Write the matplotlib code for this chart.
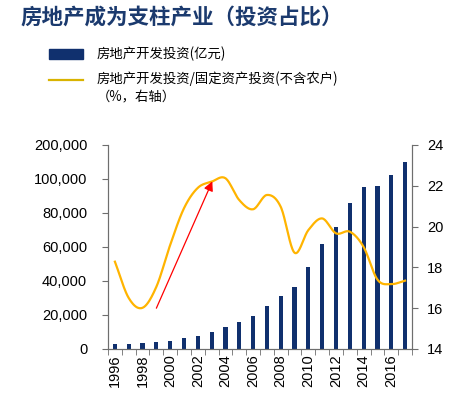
import numpy as np
import matplotlib
matplotlib.use("Agg")
import matplotlib.pyplot as plt
from matplotlib.lines import Line2D
from matplotlib.patches import Rectangle

plt.rcParams['font.family'] = ['Noto Sans CJK SC', 'DejaVu Sans']

years = list(range(1996, 2018))
investment = [3216, 3178, 3614, 4103, 4984, 6344, 7791, 10154, 13158, 15909, 19423,
              25289, 31203, 36242, 48259, 61797, 71804, 86013, 95036, 95979, 102581, 109799]
share = [18.28, 16.5, 16.02, 17.05, 19.1, 20.9, 21.9, 22.2, 22.37, 21.3, 20.85,
         21.55, 20.97, 18.72, 19.83, 20.4, 19.67, 19.75, 19.0, 17.4, 17.18, 17.35]
left_ticks = [0, 20000, 40000, 60000, 80000, 100000, 120000]
left_labels = ['0', '20,000', '40,000', '60,000', '80,000', '100,000', '200,000']
right_ticks = [14, 16, 18, 20, 22, 24]
arrow_from = (1999, 16.0)
arrow_to = (2003, 22.22)

title = '房地产成为支柱产业（投资占比）'
legend1 = '房地产开发投资(亿元)'
legend2 = '房地产开发投资/固定资产投资(不含农户)'
legend2b = '（%，右轴）'

navy = '#10306E'
gold = '#FFB400'
title_color = '#1B3A6E'
spine_c = '#6E6E6E'


def catmull_rom(x, y, n=20):
    x = np.asarray(x, float)
    y = np.asarray(y, float)
    px = np.concatenate([[2 * x[0] - x[1]], x, [2 * x[-1] - x[-2]]])
    py = np.concatenate([[2 * y[0] - y[1]], y, [2 * y[-1] - y[-2]]])
    xs, ys = [], []
    t = np.linspace(0, 1, n, endpoint=False)
    for i in range(1, len(px) - 2):
        for arr, out in ((px, xs), (py, ys)):
            p0, p1, p2, p3 = arr[i - 1], arr[i], arr[i + 1], arr[i + 2]
            out.extend(0.5 * ((2 * p1) + (-p0 + p2) * t
                              + (2 * p0 - 5 * p1 + 4 * p2 - p3) * t ** 2
                              + (-p0 + 3 * p1 - 3 * p2 + p3) * t ** 3))
    xs.append(x[-1])
    ys.append(y[-1])
    return np.array(xs), np.array(ys)


fig = plt.figure(figsize=(4.6, 4.12), dpi=100)
ax = fig.add_axes([108 / 460, 1 - 349 / 412, 304 / 460, 204 / 412])
idx = np.arange(len(years))
ax.bar(idx, investment, width=0.3, color=navy, zorder=2)
ax.set_xlim(-0.5, len(years) - 0.5)
ax.set_ylim(0, 120000)
ax.set_yticks(left_ticks)
ax.set_yticklabels(left_labels)
ax.set_xticks(idx[::2])
ax.set_xticklabels([str(y) for y in years[::2]], rotation=90)
ax.set_xticks(np.arange(-0.5, len(years)), minor=True)
ax.tick_params(axis='x', which='major', length=0, pad=4, labelsize=10.5)
ax.tick_params(axis='x', which='minor', length=4, color=spine_c, direction='out')
ax.tick_params(axis='y', length=4, color=spine_c, labelsize=10.5, pad=11)
ax.spines['top'].set_visible(False)
for s in ('left', 'bottom', 'right'):
    ax.spines[s].set_color(spine_c)

ax2 = ax.twinx()
ax2.set_ylim(14, 24)
ax2.set_yticks(right_ticks)
ax2.tick_params(axis='y', length=4, color=spine_c, labelsize=10.5, pad=7)
ax2.spines['top'].set_visible(False)
for s in ('left', 'bottom', 'right'):
    ax2.spines[s].set_color(spine_c)
sx, sy = catmull_rom(idx, share)
ax2.plot(sx, sy, color=gold, lw=1.6, zorder=3)
ax2.annotate('', xy=(years.index(arrow_to[0]) + 0.05, arrow_to[1]),
             xytext=(years.index(arrow_from[0]), arrow_from[1]),
             arrowprops=dict(arrowstyle='-|>', color='red', lw=0.9,
                             mutation_scale=14, shrinkA=0, shrinkB=0))

for lab in ax.get_xticklabels() + ax.get_yticklabels() + ax2.get_yticklabels():
    lab.set_family(['Liberation Sans', 'DejaVu Sans'])

fig.text(20 / 460, 1 - 17 / 412, title, fontsize=15.5, fontweight='bold',
         color=title_color, va='center', ha='left')
fig.patches.append(Rectangle((49 / 460, 1 - 59 / 412), 34 / 460, 10 / 412,
                             transform=fig.transFigure, color=navy, figure=fig))
fig.lines.append(Line2D([49 / 460, 83 / 460], [1 - 80 / 412, 1 - 80 / 412],
                        transform=fig.transFigure, color='#D9B300', lw=1.6, figure=fig))
fig.text(97 / 460, 1 - 54 / 412, legend1, fontsize=9.6, va='center', ha='left')
fig.text(97 / 460, 1 - 79 / 412, legend2, fontsize=9.6, va='center', ha='left')
fig.text(97 / 460, 1 - 97 / 412, legend2b, fontsize=9.6, va='center', ha='left')

fig.savefig('out.png', dpi=100)
